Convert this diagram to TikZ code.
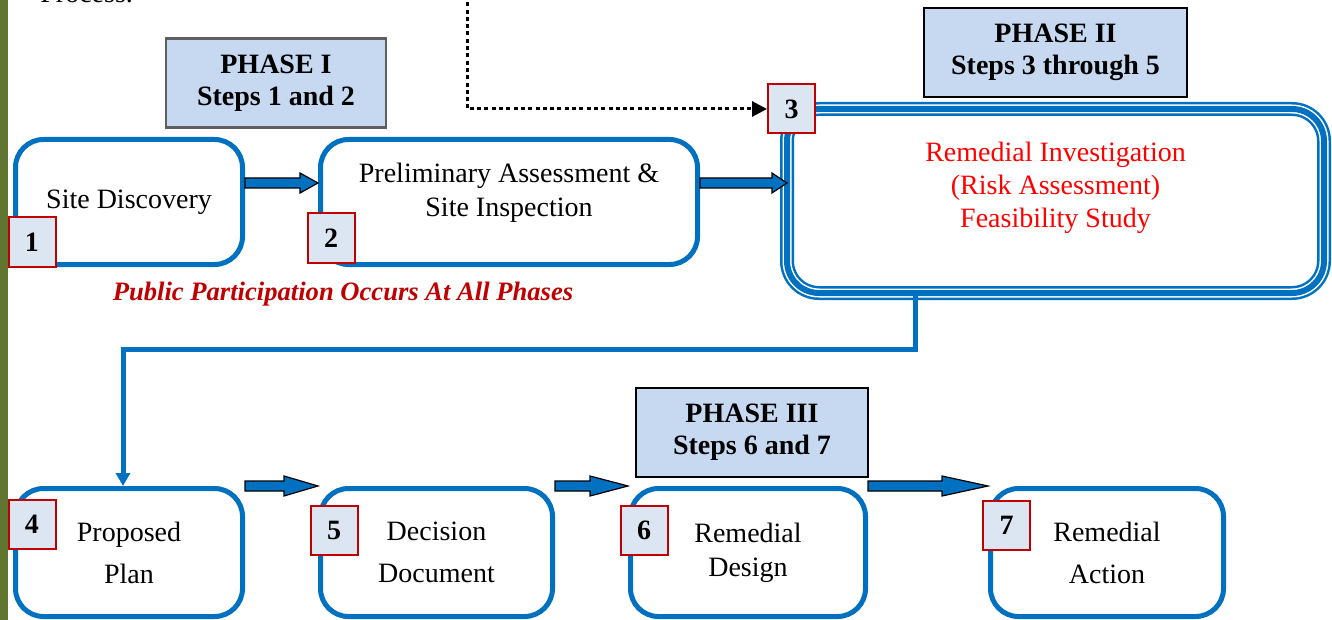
\documentclass[tikz,border=0pt]{standalone}
\usepackage{fontspec}
\setmainfont{Liberation Serif}
\usetikzlibrary{arrows.meta, calc}

\definecolor{flowblue}{HTML}{0070C0}
\definecolor{phasefill}{HTML}{C6D9F1}
\definecolor{phasegray}{HTML}{5F5F5F}
\definecolor{badgefill}{HTML}{DCE6F2}
\definecolor{badgered}{HTML}{C00000}
\definecolor{barolive}{HTML}{5F7530}

\begin{document}
\begin{tikzpicture}[
    x=0.5pt, y=-0.5pt,
    every node/.style={font=\fontsize{14}{17}\selectfont},
    stage/.style={draw=flowblue, line width=2.5pt, rounded corners=14pt, align=center, minimum width=#1, minimum height=62.5pt},
    lower/.style={minimum height=64pt, font=\fontsize{14}{21}\selectfont},
    triple/.style={draw=flowblue, line width=7pt, rounded corners=16pt, outer sep=0pt,
        postaction={draw=white, line width=4.5pt}, postaction={draw=flowblue, line width=3pt}},
    phase/.style={draw=black, line width=1pt, fill=phasefill, align=center, minimum height=44.5pt, font=\bfseries\fontsize{14}{16}\selectfont},
    badge/.style={draw=badgered, line width=1pt, fill=badgefill, inner sep=0pt, minimum width=23.5pt, minimum height=24.5pt, font=\bfseries\fontsize{14}{16}\selectfont},
    redtext/.style={text=red, align=center, font=\fontsize{14}{16.5}\selectfont},
    flow/.style={draw=flowblue, line width=2.5pt, -{Triangle[length=6.5pt, width=7pt]}},
    dotflow/.style={line width=1.5pt, dash pattern=on 2pt off 1.65pt, -{Triangle[length=7.5pt, width=7.5pt]}},
    blockarrow/.style={draw=black, line width=0.6pt, fill=flowblue,
        to path={let \p1=(\tikztostart), \p2=(\tikztotarget) in
            (\x1,\y1+2.5pt) -- (\x2-#1,\y1+2.5pt) -- (\x2-#1,\y1+5pt) -- (\x2,\y1)
            -- (\x2-#1,\y1-5pt) -- (\x2-#1,\y1-2.5pt) -- (\x1,\y1-2.5pt) -- cycle}}
]
\useasboundingbox (0,0) rectangle (1332,620);
\fill[barolive] (0,0) rectangle (8,620);
\node[anchor=base west, inner sep=0pt] (proc) at (40,3) {Process.};

\node[phase, draw=phasegray, line width=1.2pt, minimum width=110pt] (p1) at (276,83) {PHASE I\\Steps 1 and 2};
\node[phase, minimum width=131.5pt] (p2) at (1055.5,52.5) {PHASE II\\Steps 3 through 5};

\node[stage=113.5pt] (n1) at (129,202) {Site Discovery};
\node[stage=188.5pt, label={[yshift=4.5pt, align=center]center:{Preliminary Assessment \&\\Site Inspection}}] (n2) at (509,202) {};
\node[triple, minimum width=268.5pt, minimum height=92pt,
    label={[redtext, yshift=6.75pt]center:{Remedial Investigation\\(Risk Assessment)\\Feasibility Study}}] (n3) at (1055.5,201) {};

\node[badge] (b1) at (32,242) {1};
\node[badge] (b2) at (331,238) {2};
\node[badge] (b3) at (791.5,109) {3};

\coordinate (a1) at ([yshift=-23pt]n1.north east);
\coordinate (a2) at ([yshift=-23pt]n2.north east);
\draw[blockarrow=9pt] (a1) to (a1 -| n2.west);
\draw[blockarrow=7.5pt] (a2) to (a2 -| n3.west);

\coordinate (dtop) at (467,-5);
\draw[dotflow] (dtop) |- (b3.west);

\node[font=\bfseries\itshape\fontsize{13.3}{16}\selectfont, text=badgered] (note) at (343,294) {Public Participation Occurs At All Phases};

\node[phase, minimum width=116pt] (p3) at (752,432) {PHASE III\\Steps 6 and 7};

\node[stage=113.5pt, lower] (n4) at (129,552.5) {Proposed\\Plan};
\node[stage=116pt, lower] (n5) at (436.5,552.5) {Decision\\Document};
\node[stage=117.5pt, lower, font=\fontsize{14}{17}\selectfont] (n6) at (748,552.5) {Remedial\\Design};
\node[stage=116.5pt, lower] (n7) at (1107,552.5) {Remedial\\Action};

\node[badge] (b4) at (32,524) {4};
\node[badge] (b5) at (334,530) {5};
\node[badge] (b6) at (644,530) {6};
\node[badge] (b7) at (1006.5,525.5) {7};

\draw[flow] ([xshift=64pt]n3.south west) -- ++(0,56) -| ([xshift=-3pt]n4.north);

\draw[blockarrow=17pt] (n4.north east) to (n5.north west);
\draw[blockarrow=19pt] (n5.north east) to (n6.north west);
\draw[blockarrow=23pt] (n6.north east) to (n7.north west);
\end{tikzpicture}
\end{document}
